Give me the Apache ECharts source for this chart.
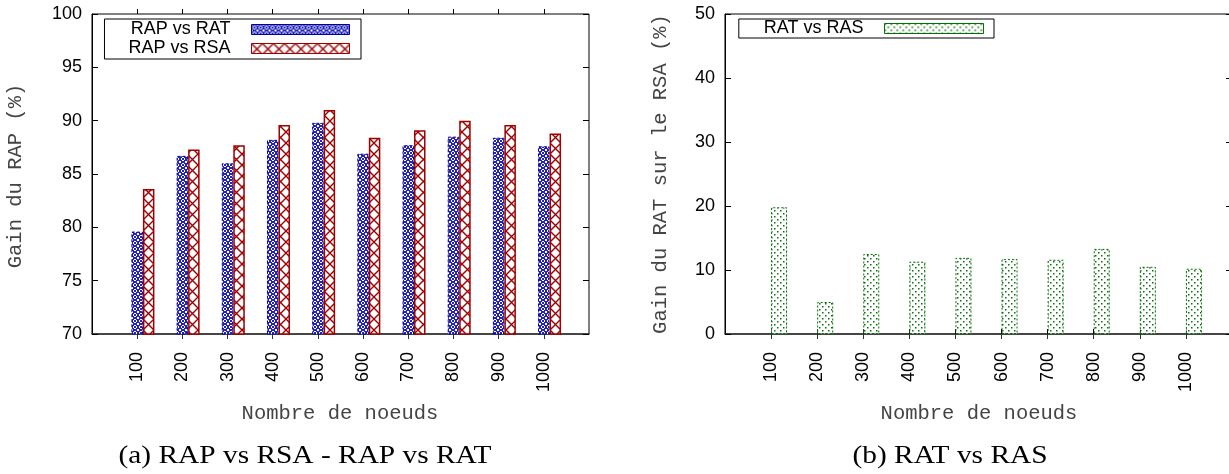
<!DOCTYPE html>
<html>
<head>
<meta charset="utf-8">
<script src="https://cdn.jsdelivr.net/npm/echarts@6/dist/echarts.min.js"></script>
<style>
html,body{margin:0;padding:0;background:#fff;}
#chart{width:1229px;height:474px;}
</style>
</head>
<body>
<div id="chart"></div>
<script>
// ---- data ----
const nodes = ['100','200','300','400','500','600','700','800','900','1000'];
const rapVsRat = [79.6, 86.7, 86.0, 88.2, 89.8, 86.9, 87.7, 88.5, 88.4, 87.6];
const rapVsRsa = [83.6, 87.3, 87.7, 89.6, 91.0, 88.4, 89.1, 90.0, 89.6, 88.8];
const ratVsRas = [19.8, 5.0, 12.5, 11.3, 11.9, 11.7, 11.6, 13.3, 10.5, 10.2];
const leftTitleY = 'Gain du RAP (%)';
const rightTitleY = 'Gain du RAT sur le RSA (%)';
const titleX = 'Nombre de noeuds';
const captionA = '(a) RAP vs RSA - RAP vs RAT';
const captionB = '(b) RAT vs RAS';

// padded category list: empty slot at each end (gnuplot-style range)
const cats = [''].concat(nodes).concat(['']);
const pad = arr => [null].concat(arr).concat([null]);
const empty = cats.map(() => null);

// ---- patterns ----
function makePattern(size, draw) {
  const c = document.createElement('canvas');
  c.width = size; c.height = size;
  const ctx = c.getContext('2d');
  draw(ctx, size);
  return { image: c, repeat: 'repeat' };
}
const bluePat = makePattern(6, (ctx) => {
  ctx.fillStyle = '#2424b8'; ctx.fillRect(0, 0, 6, 6);
  ctx.fillStyle = '#ffffff';
  [[2,1],[3,1],[1,2],[4,2],[1,3],[4,3],[2,4],[3,4],[0,0],[5,5],[5,0],[0,5]].forEach(p => ctx.fillRect(p[0], p[1], 1, 1));
});
const redPat = makePattern(11, (ctx, s) => {
  ctx.fillStyle = '#ffffff'; ctx.fillRect(0, 0, s, s);
  ctx.strokeStyle = '#a00000'; ctx.lineWidth = 1.4;
  ctx.beginPath();
  ctx.moveTo(-1, -1); ctx.lineTo(s + 1, s + 1);
  ctx.moveTo(-1, s + 1); ctx.lineTo(s + 1, -1);
  ctx.stroke();
});
const greenPat = makePattern(6, (ctx) => {
  ctx.fillStyle = '#ffffff'; ctx.fillRect(0, 0, 6, 6);
  ctx.fillStyle = '#0a700a';
  ctx.fillRect(0, 0, 1.5, 1.5);
  ctx.fillRect(3, 3, 1.5, 1.5);
});

const sansFont = 'Liberation Sans';
const tickInt = (idx) => idx > 0 && idx < cats.length - 1;

function xAxes(gridIndex) {
  return [
    {
      gridIndex, type: 'category', data: cats, boundaryGap: false, position: 'bottom',
      axisLine: { show: true, lineStyle: { color: '#333', width: 1.5 } },
      axisTick: { show: true, inside: false, length: 5, interval: tickInt, lineStyle: { color: '#333' } },
      axisLabel: { rotate: 90, margin: 18, interval: 0, fontSize: 18, fontFamily: sansFont, color: '#000' },
      splitLine: { show: false }
    },
    {
      gridIndex, type: 'category', data: cats, boundaryGap: false, position: 'top',
      axisLine: { show: false },
      axisTick: { show: true, inside: false, length: 5, interval: tickInt, lineStyle: { color: '#000' } },
      axisLabel: { show: false },
      splitLine: { show: false }
    }
  ];
}
function yAxes(gridIndex, min, max, interval) {
  return [
    {
      gridIndex, type: 'value', min, max, interval, position: 'left',
      axisLine: { show: true, lineStyle: { color: '#000' } },
      axisTick: { show: true, inside: true, length: 6, lineStyle: { color: '#000' } },
      axisLabel: { margin: 10, fontSize: 18, fontFamily: sansFont, color: '#000' },
      splitLine: { show: false }
    },
    {
      gridIndex, type: 'value', min, max, interval, position: 'right',
      axisLine: { show: false },
      axisTick: { show: true, inside: true, length: 6, lineStyle: { color: '#000' } },
      axisLabel: { show: false },
      splitLine: { show: false }
    }
  ];
}

const legendText = { fontFamily: sansFont, fontSize: 18, color: '#000', padding: [0, 16, 0, 0], lineHeight: 19 };

const option = {
  animation: false,
  backgroundColor: '#fff',
  grid: [
    { left: 92, top: 14, width: 497, height: 320, show: true, borderColor: '#000', borderWidth: 1, outerBoundsMode: 'none', containLabel: false },
    { left: 725, top: 14, width: 507, height: 320, show: true, borderColor: '#000', borderWidth: 1, outerBoundsMode: 'none', containLabel: false }
  ],
  xAxis: xAxes(0).concat(xAxes(1)),
  yAxis: yAxes(0, 70, 100, 5).concat(yAxes(1, 0, 50, 10)),
  legend: [
    {
      data: ['RAP vs RAT', 'RAP vs RSA'], orient: 'vertical', right: 868, top: 19, align: 'right',
      icon: 'rect', itemWidth: 98, itemHeight: 10, itemGap: 0, padding: [1, 11, 1, 24],
      borderColor: '#000', borderWidth: 1, selectedMode: false, textStyle: legendText,
      itemStyle: { borderWidth: 1 }
    },
    {
      data: ['RAT vs RAS'], orient: 'vertical', right: 235, top: 19, align: 'right',
      icon: 'rect', itemWidth: 99, itemHeight: 10, itemGap: 0, padding: [0, 10, 0, 25],
      borderColor: '#000', borderWidth: 1, selectedMode: false, textStyle: legendText,
      itemStyle: { borderWidth: 1 }
    }
  ],
  series: [
    { name: '_padA', type: 'bar', xAxisIndex: 0, yAxisIndex: 0, data: empty, barWidth: 11.5, barGap: '0%', silent: true },
    {
      name: 'RAP vs RAT', type: 'bar', xAxisIndex: 0, yAxisIndex: 0, data: pad(rapVsRat),
      barWidth: 11.5, barGap: '0%',
      itemStyle: { color: bluePat, borderColor: '#0000a0', borderWidth: 1, borderType: [3, 2] }
    },
    {
      name: 'RAP vs RSA', type: 'bar', xAxisIndex: 0, yAxisIndex: 0, data: pad(rapVsRsa),
      barWidth: 11.5, barGap: '0%',
      itemStyle: { color: redPat, borderColor: '#a00000', borderWidth: 1.5 }
    },
    { name: '_padB', type: 'bar', xAxisIndex: 2, yAxisIndex: 2, data: empty, barWidth: 16, barGap: '0%', silent: true },
    {
      name: 'RAT vs RAS', type: 'bar', xAxisIndex: 2, yAxisIndex: 2, data: pad(ratVsRas),
      barWidth: 16, barGap: '0%',
      itemStyle: { color: greenPat, borderColor: '#007000', borderWidth: 1, borderType: [2, 2] }
    }
  ],
  graphic: [
    { type: 'text', x: 340, y: 414, style: { text: titleX, font: '20.5px "Liberation Mono"', fill: '#444', align: 'center', verticalAlign: 'middle' } },
    { type: 'text', x: 979, y: 414, style: { text: titleX, font: '20.5px "Liberation Mono"', fill: '#444', align: 'center', verticalAlign: 'middle' } },
    { type: 'text', x: 16, y: 176, rotation: Math.PI / 2, style: { text: leftTitleY, font: '20.5px "Liberation Mono"', fill: '#444', align: 'center', verticalAlign: 'middle' } },
    { type: 'text', x: 661, y: 174, rotation: Math.PI / 2, style: { text: rightTitleY, font: '20.5px "Liberation Mono"', fill: '#444', align: 'center', verticalAlign: 'middle' } },
    { type: 'text', x: 305, y: 456, scaleX: 1.13, style: { text: captionA, font: '26px "Liberation Serif"', fill: '#000', align: 'center', verticalAlign: 'middle' } },
    { type: 'text', x: 950, y: 456, scaleX: 1.13, style: { text: captionB, font: '26px "Liberation Serif"', fill: '#000', align: 'center', verticalAlign: 'middle' } }
  ]
};

const chart = echarts.init(document.getElementById('chart'), null, { renderer: 'canvas' });
chart.setOption(option);
</script>
</body>
</html>
